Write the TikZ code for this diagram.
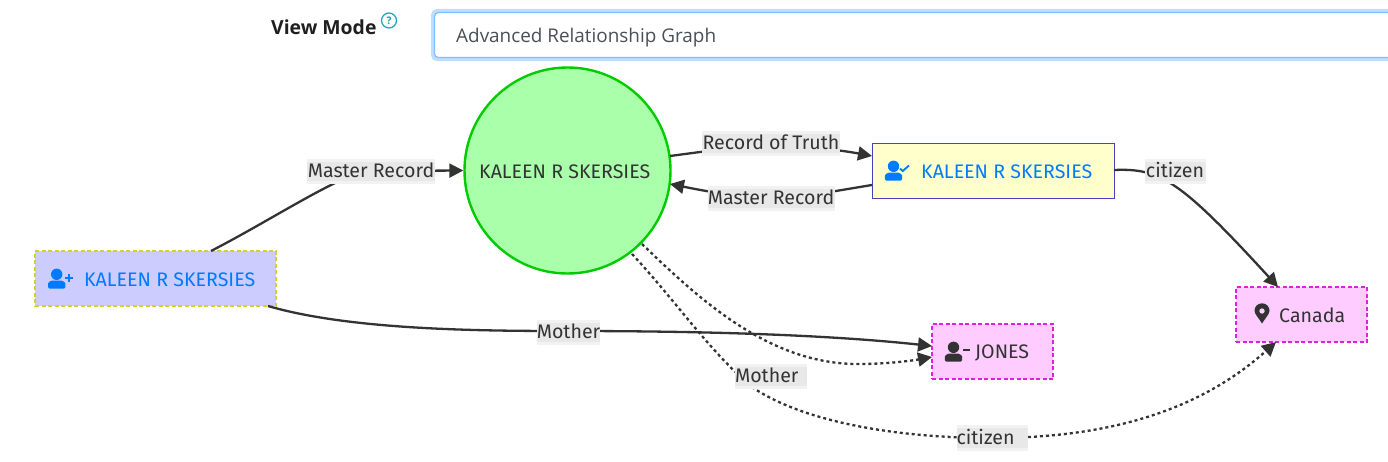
\documentclass[tikz,border=0pt]{standalone}
\usepackage{fontspec}
\setmainfont{Fira Sans}
\newfontfamily\uifont{Open Sans}
\usetikzlibrary{arrows.meta}
\definecolor{linkblue}{HTML}{007BFF}
\definecolor{ink}{HTML}{333333}
\definecolor{labelbg}{HTML}{E8E8E8}
\definecolor{labeledge}{HTML}{F2F2F2}
\definecolor{greenfill}{HTML}{AAFFAA}
\definecolor{greenline}{HTML}{00CC00}
\definecolor{lilac}{HTML}{CCCCFF}
\definecolor{olive}{HTML}{D2D22E}
\definecolor{cream}{HTML}{FFFFCC}
\definecolor{indigo}{HTML}{4444BB}
\definecolor{pinkfill}{HTML}{FFCCFF}
\definecolor{pinkline}{HTML}{DD22DD}
\definecolor{helpcol}{HTML}{17A2B8}
\definecolor{focusline}{HTML}{80BDFF}
\definecolor{focushalo}{HTML}{BFDEFF}
\definecolor{inputtext}{HTML}{495057}
\tikzset{
  x=1pt,y=-1pt,
  box/.style={draw,rectangle,inner sep=0pt,line width=1.1pt},
  srcbox/.style={box,fill=lilac,draw=olive,dash pattern=on 4pt off 2.5pt},
  mainbox/.style={box,fill=cream,draw=indigo,line width=0.9pt},
  dstbox/.style={box,fill=pinkfill,draw=pinkline,dash pattern=on 4pt off 2.5pt},
  hub/.style={draw=greenline,fill=greenfill,circle,line width=2.4pt,inner sep=0pt,minimum size=206pt},
  nametext/.style={anchor=west,inner sep=0pt,font=\fontsize{19.6}{21}\selectfont,text=linkblue},
  darktext/.style={anchor=west,inner sep=0pt,font=\fontsize{19.6}{21}\selectfont,text=ink},
  edgelabel/.style={fill=labeledge,inner sep=0pt,text=ink,font=\fontsize{19.6}{21}\selectfont,text height=15pt,text depth=2pt,
    path picture={\fill[labelbg] ([yshift=-3pt]path picture bounding box.north west) rectangle ([yshift=3pt]path picture bounding box.south east);}},
  leftlabel/.style={edgelabel,align=left},
  link/.style={draw=ink,line width=2.3pt,-{Triangle[length=14pt,width=14pt]}},
  plainlink/.style={draw=ink,line width=2.3pt},
  dotlink/.style={link,dash pattern=on 3pt off 3pt},
  dotplain/.style={plainlink,dash pattern=on 3pt off 3pt},
  person/.pic={
    \fill (0,-5.7) circle (5.7);
    \fill[rounded corners=1.5pt] (-8.7,8.7) -- (-8.7,5) .. controls (-8.7,2.5) and (-6,0.7) .. (-3.5,0.7)
      -- (3.5,0.7) .. controls (6,0.7) and (8.7,2.5) .. (8.7,5) -- (8.7,8.7) -- cycle;
  }
}
\begin{document}
\begin{tikzpicture}
\useasboundingbox (0,0) rectangle (1388,461);
% header
\node[anchor=west,inner sep=0pt,font=\uifont\bfseries\fontsize{19.4}{20}\selectfont,text=black!88] (viewmode) at (271,27.5) {View Mode};
\node[draw=helpcol,circle,line width=1.2pt,minimum size=15pt,inner sep=0pt,text=helpcol,font=\uifont\fontsize{10.5}{11}\selectfont\bfseries] (help) at (389,20.5) {?};
\begin{scope}
\clip (0,0) rectangle (1388,461);
\draw[draw=focushalo,line width=3.4pt,rounded corners=5pt] (1400,10.5) -- (432.5,10.5) -- (432.5,59.5) -- (1400,59.5);
\draw[draw=focusline,line width=1.2pt,fill=white,rounded corners=4pt] (1400,12.5) -- (434.5,12.5) -- (434.5,57.5) -- (1400,57.5);
\end{scope}
\node[anchor=west,inner sep=0pt,font=\uifont\fontsize{18.9}{20}\selectfont,text=inputtext] (mode) at (456,38) {Advanced Relationship Graph};
% nodes
\node[hub] (hub) at (567.5,170.5) {};
\node[srcbox,minimum width=241pt,minimum height=55pt] (src) at (155.5,278.5) {};
\node[mainbox,minimum width=242pt,minimum height=55pt] (main) at (993,170.5) {};
\node[dstbox,minimum width=121pt,minimum height=55pt] (jones) at (992.5,351.5) {};
\node[dstbox,minimum width=131pt,minimum height=55pt] (canada) at (1301.5,314.5) {};
\node[darktext] (hubtext) at (479,171.5) {KALEEN R SKERSIES};
\node[nametext] (srctext) at (84,279.5) {KALEEN R SKERSIES};
\node[nametext] (maintext) at (921,171.5) {KALEEN R SKERSIES};
\node[darktext] (jonestext) at (975,352.5) {JONES};
\node[darktext] (canadatext) at (1279,315.5) {Canada};
% icons
\begin{scope}[shift={(56.7,280)},fill=linkblue]
\pic {person};
\fill (8.5,-3) rectangle (16,-1);
\fill (11.2,-5.7) rectangle (13.2,1.7);
\end{scope}
\begin{scope}[shift={(893.5,172)},fill=linkblue]
\pic {person};
\draw[linkblue,line width=1.9pt] (6.5,-3.5) -- (9.2,-1) -- (15.5,-6.5);
\end{scope}
\begin{scope}[shift={(953.5,353)},fill=ink]
\pic {person};
\fill (9.5,-4) rectangle (16.5,-2);
\end{scope}
\fill[ink,even odd rule] (1262,323.5) .. controls (1259,318.5) and (1254.5,314) .. (1254.5,310.8)
  .. controls (1254.5,306.5) and (1257.8,303.3) .. (1262,303.3)
  .. controls (1266.2,303.3) and (1269.5,306.5) .. (1269.5,310.8)
  .. controls (1269.5,314) and (1265,318.5) .. (1262,323.5) -- cycle
  (1264.8,311) arc[start angle=0,end angle=360,radius=2.8];
% edge anchors
\coordinate (srcA) at (211,251);
\coordinate (srcB) at (268,306);
\coordinate (hubA) at (670,156);
\coordinate (hubB) at (670,184);
\coordinate (hubC) at (642,244);
\coordinate (hubD) at (632,254);
\coordinate (mainA) at (872,156);
\coordinate (mainB) at (872,185);
\coordinate (mainC) at (1114,170);
\coordinate (jonesA) at (932,346);
\coordinate (jonesB) at (932,357);
\coordinate (canA) at (1278,287);
\coordinate (canB) at (1276,342);
\coordinate (l6bot) at (752,387);
% edges
\draw[link] (srcA) .. controls (275,218) and (345,171) .. (371,171) -- (hub.west);
\draw[link] (hubA) .. controls (700,152) and (735,147) .. (771,146) .. controls (805,146) and (840,150) .. (mainA);
\draw[link] (mainB) .. controls (835,191) and (805,197) .. (771,198) .. controls (735,197) and (700,190) .. (hubB);
\draw[link] (mainC) .. controls (1160,168) and (1180,180) .. (canA);
\draw[link] (srcB) .. controls (350,330) and (480,331) .. (568,331) .. controls (690,331) and (820,334) .. (jonesA);
\draw[dotlink] (hubC) .. controls (700,300) and (770,365) .. (860,364) .. controls (885,364) and (910,361) .. (jonesB);
\draw[dotplain] (hubD) .. controls (675,300) and (710,352) .. (l6bot);
\draw[dotplain] (l6bot) .. controls (800,420) and (890,438) .. (992,438);
\draw[dotlink] (992,438) .. controls (1110,438) and (1200,410) .. (canB);
% labels
\node[edgelabel,minimum width=128pt,minimum height=25pt] (l1) at (371,171) {Master Record};
\node[edgelabel,minimum width=138pt,minimum height=25pt] (l2) at (771,143) {Record of Truth};
\node[edgelabel,minimum width=127pt,minimum height=25pt] (l3) at (771,198) {Master Record};
\node[edgelabel,minimum width=61pt,minimum height=25pt] (l4) at (1175,171) {citizen};
\node[edgelabel,minimum width=63pt,minimum height=25pt] (l5) at (568.5,332) {Mother};
\node[leftlabel,text width=72pt,minimum height=25pt] (l6) at (771,376) {Mother};
\node[leftlabel,text width=71pt,minimum height=26pt] (l7) at (992,438) {citizen};
\end{tikzpicture}
\end{document}
